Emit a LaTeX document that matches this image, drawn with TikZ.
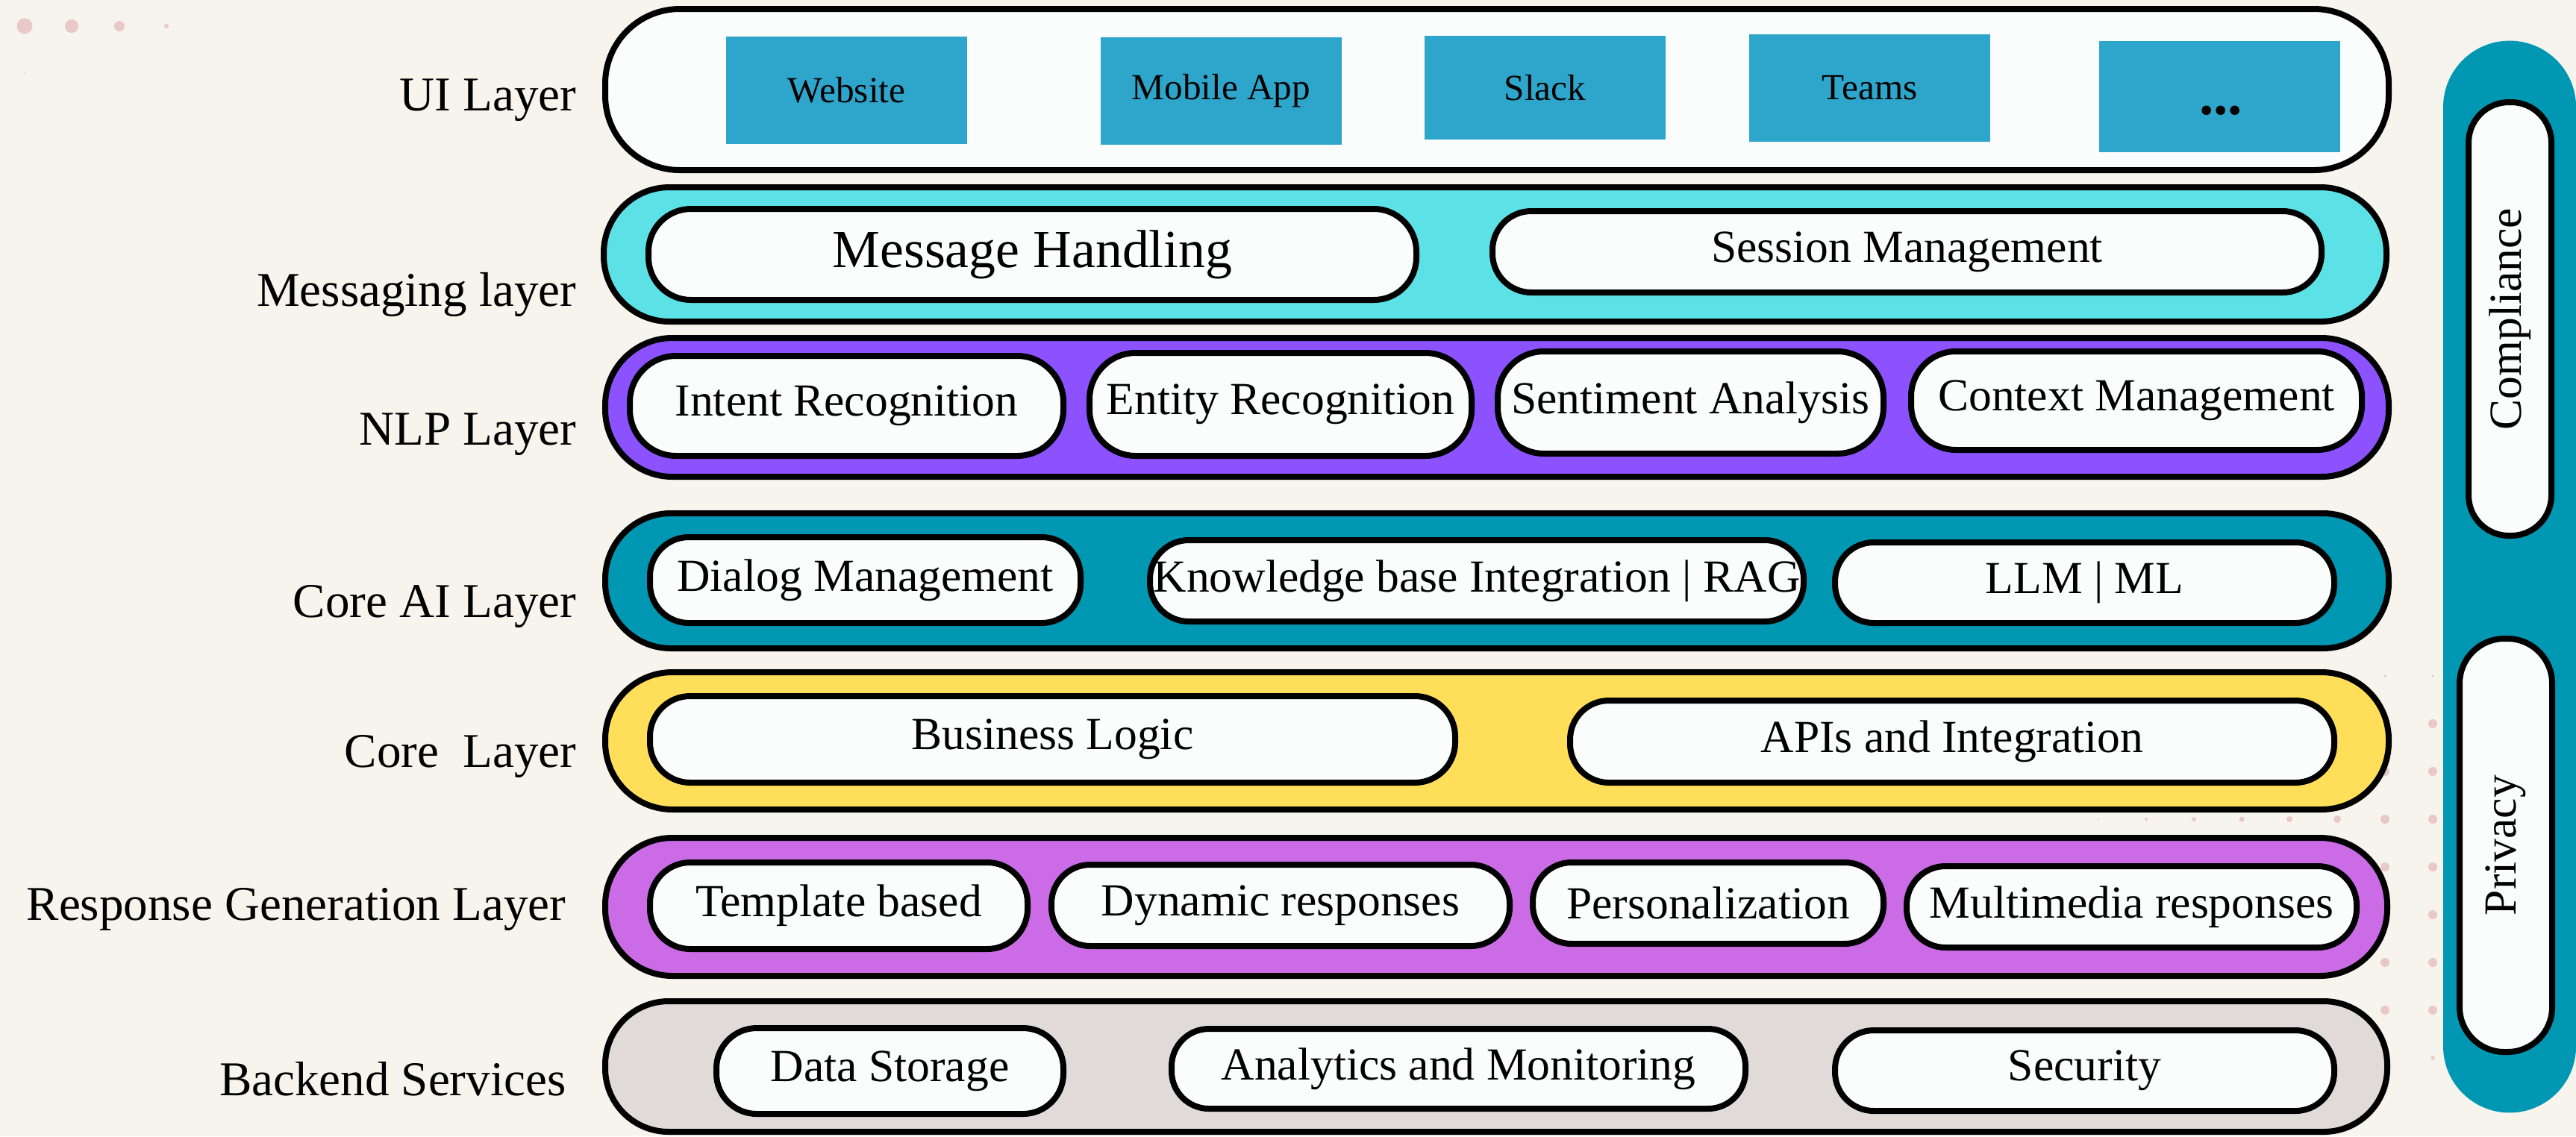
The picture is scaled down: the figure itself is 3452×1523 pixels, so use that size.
\documentclass[tikz,border=0pt]{standalone}
\usepackage{fontspec}
\setmainfont{Liberation Serif}
\definecolor{bgc}{HTML}{F7F4ED}
\definecolor{pillw}{HTML}{FAFDFB}
\definecolor{uiblue}{HTML}{2EA6CC}
\definecolor{msgc}{HTML}{5CE1E6}
\definecolor{nlpc}{HTML}{8C52FF}
\definecolor{aic}{HTML}{0097B2}
\definecolor{corec}{HTML}{FFDE59}
\definecolor{respc}{HTML}{CB6CE6}
\definecolor{backc}{HTML}{E0DBD8}
\definecolor{dotpink}{HTML}{E9C8C8}
\newcommand{\lbltxt}{\fontsize{18.5}{22}\selectfont}
\newcommand{\pilltxt}{\fontsize{17.5}{21}\selectfont}
\newcommand{\mhtxt}{\fontsize{20.4}{24}\selectfont}
\newcommand{\uitxt}{\fontsize{14}{17}\selectfont}
\newcommand{\dotstxt}{\fontsize{22}{26}\selectfont\bfseries}
% name, style, x1, y1, x2, y2 (outer edges in px), text
\newcommand{\boxat}[7]{%
  \node[#2, minimum width={(#5-#3-8)*0.01cm}, minimum height={(#6-#4-8)*0.01cm}] (#1) at ({(#3+#5)/2},{(#4+#6)/2}) {#7};}
\begin{document}
\begin{tikzpicture}[x=0.01cm,y=-0.01cm,
  bar/.style={draw=black, line width=0.08cm, inner sep=0pt, outer sep=0pt, rectangle},
  pill/.style={draw=black, fill=pillw, line width=0.08cm, inner sep=0pt, outer sep=0pt, rectangle, rounded corners=0.52cm, font=\pilltxt},
  uibox/.style={fill=uiblue, draw=none, inner sep=0pt, outer sep=0pt, rectangle, font=\uitxt},
  lbl/.style={anchor=base east, inner sep=0pt, font=\lbltxt},
  vtxt/.style={rotate=90, inner sep=0pt, font=\pilltxt}]
\useasboundingbox (0,0) rectangle (3452,1523);
\fill[bgc] (0,0) rectangle (3452,1523);

% decorative dots
\fill[dotpink] (33,35) circle[radius=0.105cm];
\fill[dotpink] (96,35) circle[radius=0.09cm];
\fill[dotpink] (160,35) circle[radius=0.07cm];
\fill[dotpink] (223,35) circle[radius=0.03cm];
\fill[dotpink] (33,98) circle[radius=0.01cm];
\foreach \i/\r in {0/6,1/6,2/5,3/4,4/3.5,5/3,6/2,7/1.2,8/0.6}{
  \foreach \j in {1,...,7}{
    \fill[dotpink] ({3260-64*\i},{1418-64*\j}) circle[radius={\r*0.01cm}];
  }
  \fill[dotpink] ({3260-64*\i},{1418-64*8}) circle[radius={0.3*\r*0.01cm}];
  \fill[dotpink] ({3260-64*\i},1418) circle[radius={0.45*\r*0.01cm}];
}

% right side compliance / privacy bar
\node[fill=aic, draw=none, inner sep=0pt, rectangle, rounded corners=0.89cm,
      minimum width=1.78cm, minimum height=14.36cm] (side) at (3363,773) {};
\boxat{cmp}{pill, rounded corners=0.54cm}{3304}{133}{3423}{722}{}
\node[vtxt] (cmptxt) at (cmp.center) {Compliance};
\boxat{prv}{pill, rounded corners=0.6cm}{3292}{852}{3424}{1414}{}
\node[vtxt] (prvtxt) at (prv.center) {Privacy};

% layer bars
\boxat{ui}{bar, fill=pillw, rounded corners=1.0cm}{807}{8}{3205}{232}{}
\boxat{msg}{bar, fill=msgc, rounded corners=0.88cm}{805}{247}{3202}{435}{}
\boxat{nlp}{bar, fill=nlpc, rounded corners=0.9cm}{807}{449}{3205}{643}{}
\boxat{ai}{bar, fill=aic, rounded corners=0.88cm}{807}{684}{3205}{873}{}
\boxat{core}{bar, fill=corec, rounded corners=0.9cm}{807}{897}{3205}{1089}{}
\boxat{resp}{bar, fill=respc, rounded corners=0.9cm}{807}{1119}{3203}{1312}{}
\boxat{back}{bar, fill=backc, rounded corners=0.85cm}{807}{1338}{3203}{1521}{}

% UI layer boxes
\boxat{web}{uibox}{969}{45}{1300}{197}{Website}
\boxat{mob}{uibox}{1471}{46}{1802}{198}{Mobile App}
\boxat{slack}{uibox}{1905}{44}{2236}{191}{Slack}
\boxat{teams}{uibox}{2340}{42}{2671}{194}{Teams}
\boxat{more}{uibox}{2809}{51}{3140}{208}{}
\node[anchor=base, inner sep=0pt, font=\dotstxt] (moretxt) at (2976,153) {...};

% messaging
\boxat{mh}{pill, rounded corners=0.57cm, font=\mhtxt}{865}{276}{1902}{406}{Message Handling}
\boxat{sm}{pill}{1996}{279}{3115}{396}{Session Management}

% NLP
\boxat{ir}{pill, rounded corners=0.62cm}{840}{473}{1429}{615}{Intent Recognition}
\boxat{er}{pill, rounded corners=0.62cm}{1456}{469}{1976}{615}{Entity Recognition}
\boxat{sa}{pill, rounded corners=0.62cm}{2003}{467}{2528}{612}{Sentiment Analysis}
\boxat{cm}{pill, rounded corners=0.6cm}{2557}{467}{3169}{607}{Context Management}

% Core AI
\boxat{dm}{pill}{867}{716}{1452}{839}{Dialog Management}
\boxat{kb}{pill}{1537}{720}{2421}{837}{Knowledge base Integration | RAG}
\boxat{llm}{pill}{2455}{723}{3132}{839}{LLM | ML}

% Core
\boxat{bl}{pill, rounded corners=0.54cm}{867}{929}{1954}{1053}{Business Logic}
\boxat{api}{pill}{2100}{935}{3132}{1053}{APIs and Integration}

% Response generation
\boxat{tb}{pill, rounded corners=0.54cm}{867}{1152}{1381}{1276}{Template based}
\boxat{dr}{pill}{1405}{1155}{2027}{1272}{Dynamic responses}
\boxat{pz}{pill}{2050}{1152}{2528}{1269}{Personalization}
\boxat{mr}{pill}{2551}{1157}{3162}{1274}{Multimedia responses}

% Backend
\boxat{ds}{pill, rounded corners=0.54cm}{956}{1374}{1429}{1497}{Data Storage}
\boxat{am}{pill, rounded corners=0.5cm}{1566}{1375}{2343}{1490}{Analytics and Monitoring}
\boxat{sec}{pill}{2455}{1377}{3132}{1493}{Security}

% layer labels
\node[lbl] (lui) at (773,148) {UI Layer};
\node[lbl] (lmsg) at (773,410) {Messaging layer};
\node[lbl] (lnlp) at (773,596) {NLP Layer};
\node[lbl] (lai) at (773,827) {Core AI Layer};
\node[lbl] (lcore) at (773,1028) {Core\ \ Layer};
\node[lbl] (lresp) at (759,1233) {Response Generation Layer};
\node[lbl] (lback) at (759,1468) {Backend Services};
\end{tikzpicture}
\end{document}
